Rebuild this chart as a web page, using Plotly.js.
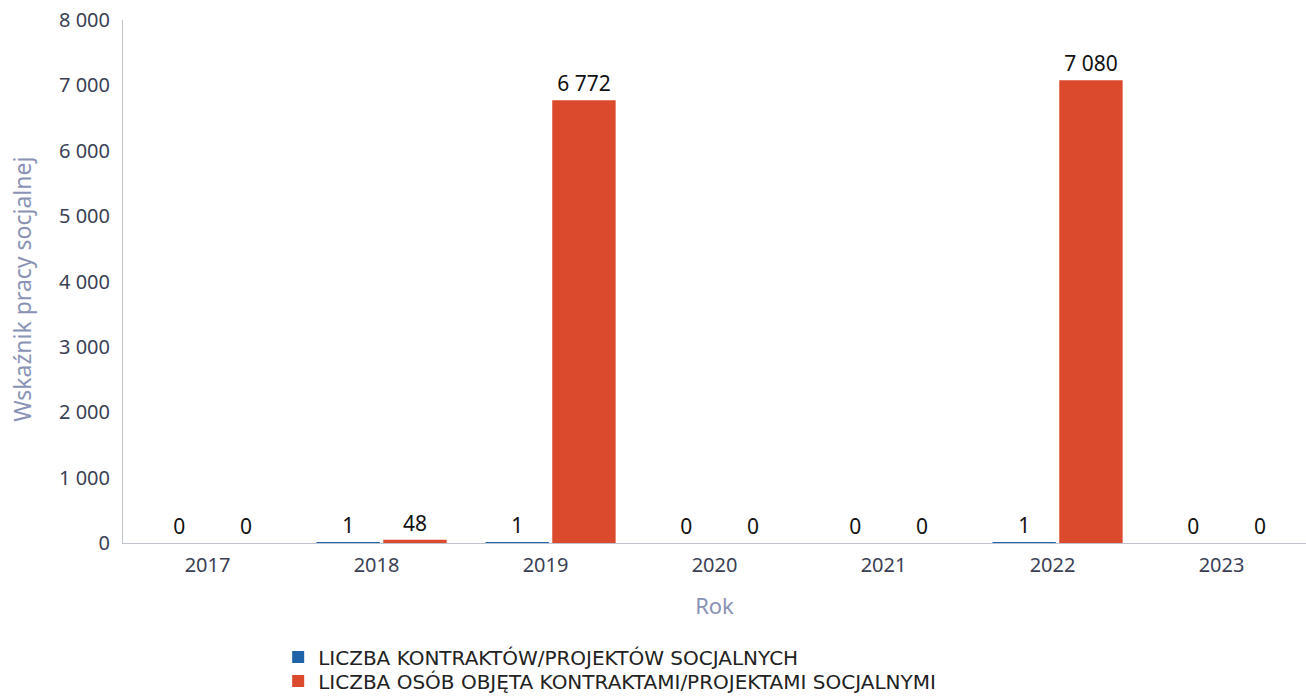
<!DOCTYPE html>
<html>
<head>
<meta charset="utf-8">
<script src="https://cdn.plot.ly/plotly-3.0.1.min.js"></script>
<style>html,body{margin:0;padding:0;background:#fff;}#chart{width:1306px;height:697px;}</style>
</head>
<body>
<div id="chart"></div>
<script>
const years = ['2017','2018','2019','2020','2021','2022','2023'];
const contracts = [0, 1, 1, 0, 0, 1, 0];
const persons = [0, 48, 6772, 0, 0, 7080, 0];
const seriesNames = ['LICZBA KONTRAKTÓW/PROJEKTÓW SOCJALNYCH', 'LICZBA OSÓB OBJĘTA KONTRAKTAMI/PROJEKTAMI SOCJALNYMI'];
const yTicks = [0, 1000, 2000, 3000, 4000, 5000, 6000, 7000, 8000];
const yTitle = 'Wskaźnik pracy socjalnej';
const xTitle = 'Rok';

const FONT = 'Noto Sans, Open Sans, sans-serif';
const labelFont = {family: FONT, size: 21, color: '#111'};
const traces = [
  {type: 'bar', name: seriesNames[0], x: years, y: contracts, legend: 'legend',
   width: 0.375, offset: -0.355,
   marker: {color: '#1f64a8'}, texttemplate: '%{y:,}', constraintext: 'none',
   textposition: 'outside', cliponaxis: false, textfont: labelFont},
  {type: 'bar', name: seriesNames[1], x: years, y: persons, legend: 'legend2',
   width: 0.375, offset: 0.04,
   marker: {color: '#db4a2c'}, texttemplate: '%{y:,}', constraintext: 'none',
   textposition: 'outside', cliponaxis: false, textfont: labelFont}
];
const legendCommon = {orientation: 'v', xref: 'container', x: 0.213, xanchor: 'left',
  yref: 'container', yanchor: 'middle', font: {family: 'DejaVu Sans, sans-serif', size: 20, color: '#222'},
  bgcolor: 'rgba(0,0,0,0)'};
const layout = {
  width: 1306, height: 697,
  margin: {l: 123, r: 0, t: 20, b: 154, autoexpand: false},
  separators: ', ',
  barmode: 'overlay',
  paper_bgcolor: '#fff', plot_bgcolor: '#fff',
  font: {family: FONT, color: '#3a3f55'},
  xaxis: {type: 'category', showgrid: false, showline: true, linecolor: '#bfc3d0', linewidth: 1,
    ticks: '', tickfont: {size: 20, color: '#3a3f55'}, ticklabelstandoff: 4,
    title: {text: xTitle, font: {size: 22, color: '#8a93b5'}, standoff: 21}},
  yaxis: {range: [0, 8000], tickvals: yTicks, tickformat: ',d', showgrid: false, zeroline: false,
    showline: true, linecolor: '#bfc3d0', linewidth: 1, ticks: '', ticklabelstandoff: 8,
    tickfont: {size: 20, color: '#3a3f55'}},
  annotations: [{text: yTitle, textangle: -90, showarrow: false,
    xref: 'paper', x: (22 - 123) / 1183, xanchor: 'center',
    yref: 'paper', y: 0.484, yanchor: 'middle',
    font: {family: FONT, size: 23, color: '#8a93b5'}}],
  showlegend: true,
  legend: Object.assign({}, legendCommon, {y: 1 - 657 / 697}),
  legend2: Object.assign({}, legendCommon, {y: 1 - 681 / 697})
};
Plotly.newPlot('chart', traces, layout, {displayModeBar: false});
</script>
</body>
</html>
